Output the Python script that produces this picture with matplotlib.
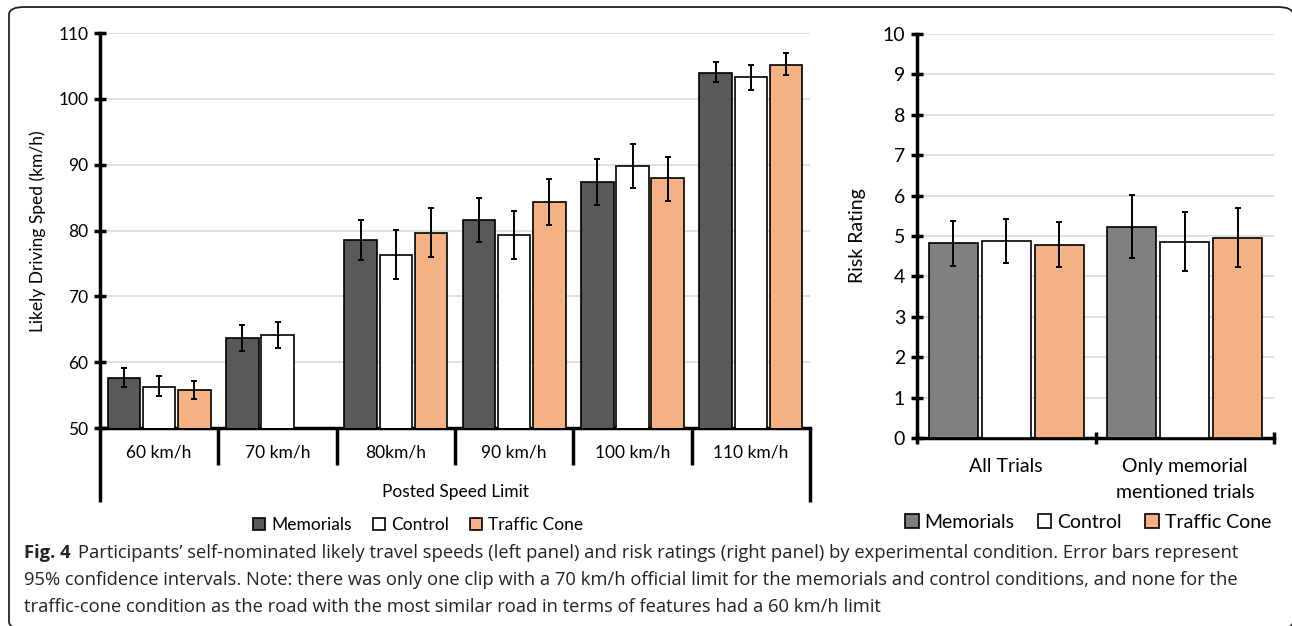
import numpy as np
import matplotlib
matplotlib.use("Agg")
import matplotlib.pyplot as plt
from matplotlib.patches import Patch, FancyBboxPatch
import matplotlib.transforms as mtransforms

plt.rcParams['font.family'] = ['Lato', 'DejaVu Sans']

# left panel data: likely driving speed by posted limit
speed_cats = ["60 km/h", "70 km/h", "80km/h", "90 km/h", "100 km/h", "110 km/h"]
speed_mem = [57.6, 63.6, 78.6, 81.6, 87.4, 104.0]
speed_mem_lo = [56.2, 61.7, 75.5, 78.2, 83.9, 102.5]
speed_mem_hi = [59.1, 65.7, 81.6, 84.9, 90.9, 105.6]
speed_ctl = [56.3, 64.1, 76.3, 79.3, 89.8, 103.3]
speed_ctl_lo = [54.9, 62.1, 72.7, 75.6, 86.5, 101.4]
speed_ctl_hi = [57.9, 66.1, 80.1, 82.9, 93.1, 105.1]
# no traffic cone clip at 70 km/h
speed_cone = [55.8, np.nan, 79.6, 84.4, 87.9, 105.2]
speed_cone_lo = [54.4, np.nan, 75.9, 80.9, 84.5, 103.6]
speed_cone_hi = [57.2, np.nan, 83.4, 87.8, 91.2, 106.9]

# right panel data: risk rating
risk_cats = ["All Trials", "Only memorial\nmentioned trials"]
risk_mem = [4.82, 5.22]
risk_mem_lo = [4.25, 4.46]
risk_mem_hi = [5.38, 6.01]
risk_ctl = [4.88, 4.86]
risk_ctl_lo = [4.34, 4.14]
risk_ctl_hi = [5.43, 5.60]
risk_cone = [4.77, 4.95]
risk_cone_lo = [4.24, 4.24]
risk_cone_hi = [5.34, 5.70]

labels = ["Memorials", "Control", "Traffic Cone"]
cone_col = "#F4B183"

W, H = 1292, 626
fig = plt.figure(figsize=(W / 100, H / 100), dpi=100)


def px_axes(x0, y0, x1, y1):
    # pixel box (top-left origin) -> figure axes
    return fig.add_axes([x0 / W, 1 - y1 / H, (x1 - x0) / W, (y1 - y0) / H])


# frame around the figure (right and bottom edges run off the image)
frame = FancyBboxPatch((9 / W, -3 / H), (1293 - 9) / W, (619 + 3) / H,
                       boxstyle="round,pad=0,rounding_size=0.012",
                       transform=fig.transFigure, fill=False, ec="#222222", lw=1.3,
                       clip_on=False)
fig.patches.append(frame)

bw = 0.275
off = 0.297


def draw_bars(ax, n, vals, los, his, colors):
    x = np.arange(n)
    for i, (v, lo, hi, c) in enumerate(zip(vals, los, his, colors)):
        xi = x + (i - 1) * off
        v = np.array(v, dtype=float)
        lo = np.array(lo, dtype=float)
        hi = np.array(hi, dtype=float)
        ok = ~np.isnan(v)
        ax.bar(xi[ok], v[ok], width=bw, color=c, edgecolor="black", linewidth=1.2, zorder=3)
        ax.errorbar(xi[ok], v[ok], yerr=[v[ok] - lo[ok], hi[ok] - v[ok]], fmt="none",
                    ecolor="black", elinewidth=1.4, capsize=2.5, capthick=1.4, zorder=4)


def style_axis(ax, fs):
    for s in ["top", "right"]:
        ax.spines[s].set_visible(False)
    ax.spines["left"].set_linewidth(2.5)
    ax.spines["bottom"].set_linewidth(2.5)
    ax.yaxis.grid(True, color="#d9d9d9", linewidth=1.2, zorder=0)
    ax.set_axisbelow(True)
    ax.tick_params(axis="y", direction="inout", length=9, width=2.5, labelsize=fs, pad=4)


# ---- left panel ----
axL = px_axes(100, 33, 810, 428)
draw_bars(axL, 6, [speed_mem, speed_ctl, speed_cone],
          [speed_mem_lo, speed_ctl_lo, speed_cone_lo],
          [speed_mem_hi, speed_ctl_hi, speed_cone_hi],
          ["#595959", "white", cone_col])
axL.set_ylim(50, 110)
axL.set_yticks(range(50, 111, 10))
axL.set_xlim(-0.5, 5.5)
style_axis(axL, 12.5)
axL.set_xticks([])
trL = mtransforms.blended_transform_factory(axL.transData, axL.transAxes)
for b in np.arange(-0.5, 6, 1.0):
    depth = 74 / 395 if b in (-0.5, 5.5) else 37 / 395
    axL.plot([b, b], [0, -depth], color="black", lw=2.5, transform=trL, clip_on=False,
             solid_capstyle="butt")
for i, c in enumerate(speed_cats):
    axL.text(i, -24 / 395, c, transform=trL, ha="center", va="center", fontsize=12.5)
axL.text(0.5, -64 / 395, "Posted Speed Limit", transform=axL.transAxes,
         ha="center", va="center", fontsize=12.5)
fig.text(38 / W, 1 - 231 / H, "Likely Driving Sped (km/h)", rotation=90,
         ha="center", va="center", fontsize=12.5)
handlesL = [Patch(facecolor=c, edgecolor="black", linewidth=1.2)
            for c in ["#595959", "white", cone_col]]
fig.legend(handlesL, labels, loc="center", bbox_to_anchor=(418 / W, 1 - 525 / H),
           ncol=3, frameon=False, fontsize=12.5, handlelength=0.7, handleheight=0.7,
           handletextpad=0.35, columnspacing=1.2, borderpad=0)

# ---- right panel ----
axR = px_axes(917, 34, 1274, 438)
draw_bars(axR, 2, [risk_mem, risk_ctl, risk_cone],
          [risk_mem_lo, risk_ctl_lo, risk_cone_lo],
          [risk_mem_hi, risk_ctl_hi, risk_cone_hi],
          ["#808080", "white", cone_col])
axR.set_ylim(0, 10)
axR.set_yticks(range(0, 11))
axR.set_xlim(-0.5, 1.5)
style_axis(axR, 14)
axR.set_xticks([-0.5, 0.5, 1.5])
axR.set_xticklabels([])
axR.tick_params(axis="x", direction="inout", length=9, width=2.5)
trR = mtransforms.blended_transform_factory(axR.transData, axR.transAxes)
axR.text(0, -28 / 404, risk_cats[0], transform=trR, ha="center", va="center", fontsize=14)
axR.text(1, -41.5 / 404, risk_cats[1], transform=trR, ha="center", va="center",
         fontsize=14, linespacing=1.65)
fig.text(858 / W, 1 - 236 / H, "Risk Rating", rotation=90,
         ha="center", va="center", fontsize=14)
handlesR = [Patch(facecolor=c, edgecolor="black", linewidth=1.2)
            for c in ["#808080", "white", cone_col]]
fig.legend(handlesR, labels, loc="center", bbox_to_anchor=(1088 / W, 1 - 522 / H),
           ncol=3, frameon=False, fontsize=14, handlelength=0.7, handleheight=0.7,
           handletextpad=0.3, columnspacing=1.2, borderpad=0)

# ---- caption ----
cap_font = ['Open Sans', 'DejaVu Sans']
cap_col = "#222222"
cap_fs = 13.2
bold = fig.text(24 / W, 1 - 553 / H, "Fig. 4", fontsize=cap_fs, fontweight="bold",
                family=cap_font, color=cap_col, va="center", ha="left")
renderer = fig.canvas.get_renderer()
bx = bold.get_window_extent(renderer).x1
fig.text((bx + 8) / W, 1 - 553 / H,
         "Participants’ self-nominated likely travel speeds (left panel) and risk ratings "
         "(right panel) by experimental condition. Error bars represent",
         fontsize=cap_fs, family=cap_font, color=cap_col, va="center", ha="left")
fig.text(24 / W, 1 - 580 / H,
         "95% confidence intervals. Note: there was only one clip with a 70 km/h official "
         "limit for the memorials and control conditions, and none for the",
         fontsize=cap_fs, family=cap_font, color=cap_col, va="center", ha="left")
fig.text(24 / W, 1 - 607 / H,
         "traffic-cone condition as the road with the most similar road in terms of "
         "features had a 60 km/h limit",
         fontsize=cap_fs, family=cap_font, color=cap_col, va="center", ha="left")

fig.savefig("out.png", dpi=100)
